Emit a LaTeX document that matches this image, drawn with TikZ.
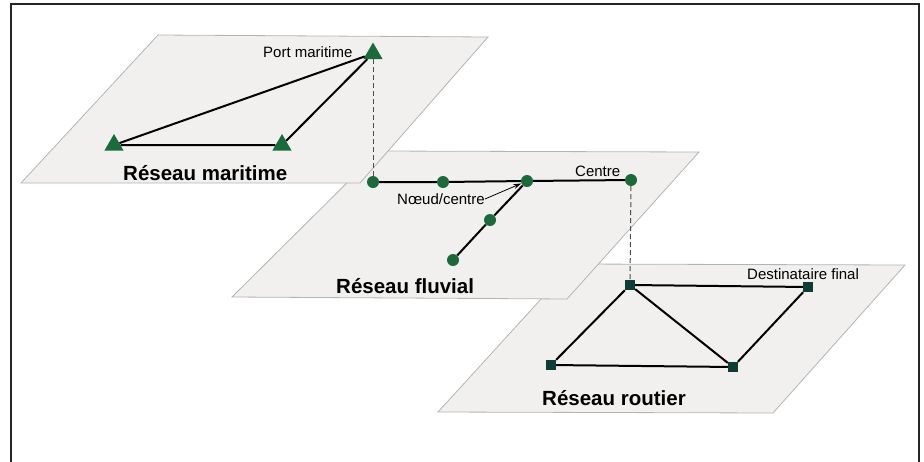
\documentclass[tikz,border=0pt]{standalone}
\usepackage{fontspec}
\setmainfont{Liberation Sans}
\usetikzlibrary{shapes.geometric,arrows.meta}
\definecolor{planefill}{HTML}{F1F0EE}
\definecolor{planeedge}{HTML}{B4B4B4}
\definecolor{nodegreen}{HTML}{1A6B3A}
\definecolor{nodedark}{HTML}{0E3D36}
\begin{document}
\begin{tikzpicture}[x=1pt,y=-1pt,
  plane/.style={fill=planefill,draw=planeedge,line width=0.8pt},
  link/.style={line width=2pt,black},
  guide/.style={draw=black!70,line width=1pt,dash pattern=on 5pt off 3pt},
  tri/.style={regular polygon,regular polygon sides=3,fill=nodegreen,inner sep=0pt,minimum size=22pt},
  dot/.style={circle,fill=nodegreen,inner sep=0pt,minimum size=12pt},
  sq/.style={rectangle,fill=nodedark,inner sep=0pt,minimum size=10pt},
  lbl/.style={inner sep=0pt,anchor=west,font=\fontsize{15}{18}\selectfont},
  title/.style={inner sep=0pt,anchor=west,font=\fontsize{20.5}{24}\selectfont\bfseries}]
\useasboundingbox (0,0) rectangle (924,461);
\draw[line width=1.5pt,black!85] (11,4) rectangle (919,480);
% planes (back to front)
\filldraw[plane] (573,264) -- (905,265) -- (773,413) -- (438,412) -- cycle;
\filldraw[plane] (379,151) -- (699,152) -- (567,299) -- (232,297) -- cycle;
\filldraw[plane] (158,35) -- (488,37) -- (360,183) -- (21,183) -- cycle;
% maritime
\node[tri] (m1) at (373,53.5) {};
\node[tri] (m2) at (114,145) {};
\node[tri] (m3) at (282,145) {};
\draw[link] (m2) -- (m3) -- (m1) -- (m2);
\node[lbl] (pm) at (263,52) {Port maritime};
\node[title] (tm) at (123,173) {Réseau maritime};
% fluvial
\node[dot] (f1) at (373,182) {};
\node[dot] (f2) at (443,182) {};
\node[dot] (f3) at (527,181) {};
\node[dot] (f4) at (631,180) {};
\node[dot] (f5) at (490,220) {};
\node[dot] (f6) at (453,260) {};
\draw[link] (f1) -- (f2) -- (f3) -- (f4);
\draw[link] (f3) -- (f5) -- (f6);
\node[lbl] (ce) at (575,171) {Centre};
\node[lbl] (nc) at (397,199) {Nœud/centre};
\draw[-{Stealth[length=8pt,width=5pt]},line width=0.8pt] (nc.east) -- (f3);
\node[title] (tf) at (336,286) {Réseau fluvial};
% routier
\node[sq] (r1) at (630,285) {};
\node[sq] (r2) at (808,287) {};
\node[sq] (r3) at (551,365) {};
\node[sq] (r4) at (733,367) {};
\draw[link] (r1) -- (r2) -- (r4) -- (r3) -- (r1) -- (r4);
\node[lbl] (df) at (747,274) {Destinataire final};
\node[title] (tr) at (542,398) {Réseau routier};
% guides
\draw[guide] (m1) -- (f1);
\draw[guide] (f4) -- (r1);
\end{tikzpicture}
\end{document}
